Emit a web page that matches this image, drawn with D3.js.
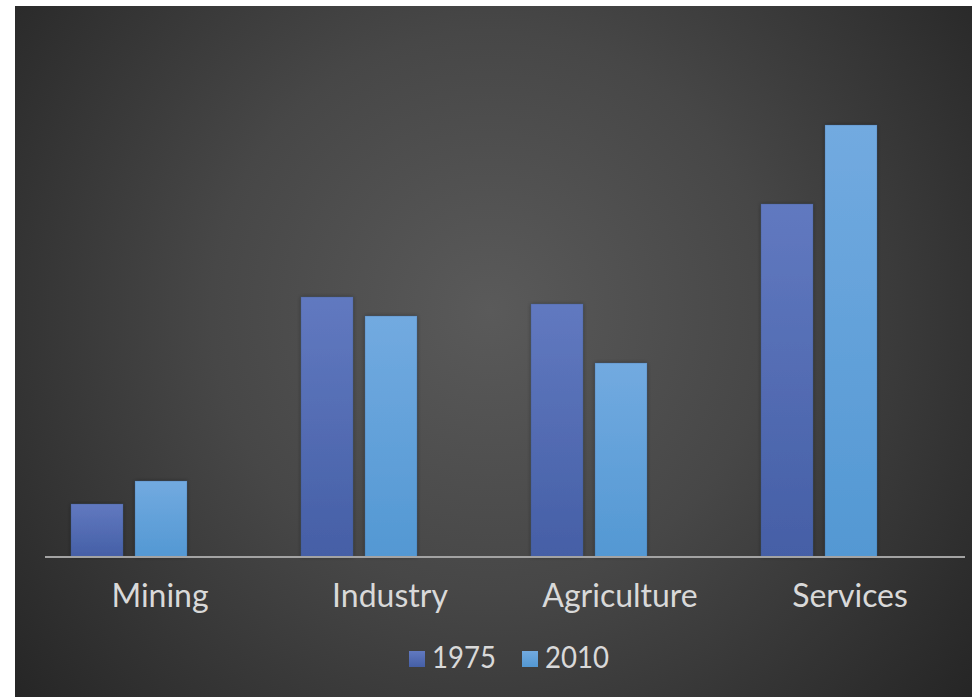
<!DOCTYPE html>
<html>
<head>
<meta charset="utf-8">
<script src="https://cdn.jsdelivr.net/npm/d3@7"></script>
<style>
  html, body { margin: 0; padding: 0; background: #ffffff; }
  svg { display: block; }
</style>
</head>
<body>
<svg id="chart" width="972" height="697"></svg>
<script>
// Employment by sector, two survey years
const categories = ["Mining", "Industry", "Agriculture", "Services"];
const seriesNames = ["1975", "2010"];
const values1975 = [5.3, 26.0, 25.3, 35.3];
const values2010 = [7.6, 24.1, 19.4, 43.2];
const seriesValues = [values1975, values2010];

const W = 972, H = 697;
const svg = d3.select("#chart");
const defs = svg.append("defs");

// Dark panel with a soft central glow
const bg = defs.append("radialGradient").attr("id", "bgGlow")
  .attr("gradientUnits", "userSpaceOnUse")
  .attr("cx", 490).attr("cy", 310).attr("r", 620);
bg.append("stop").attr("offset", "0%").attr("stop-color", "#5a5a5a");
bg.append("stop").attr("offset", "45%").attr("stop-color", "#474747");
bg.append("stop").attr("offset", "100%").attr("stop-color", "#252525");

const fills = [
  { id: "g1975", top: "#6179c0", bottom: "#455fa6" },
  { id: "g2010", top: "#72aae0", bottom: "#5398d3" }
];
fills.forEach(f => {
  const g = defs.append("linearGradient").attr("id", f.id)
    .attr("x1", 0).attr("y1", 0).attr("x2", 0).attr("y2", 1);
  g.append("stop").attr("offset", "0%").attr("stop-color", f.top);
  g.append("stop").attr("offset", "100%").attr("stop-color", f.bottom);
});

const shadow = defs.append("filter").attr("id", "barShadow")
  .attr("x", "-20%").attr("y", "-5%").attr("width", "140%").attr("height", "110%");
shadow.append("feDropShadow").attr("dx", 0).attr("dy", 0)
  .attr("stdDeviation", 2).attr("flood-color", "#000").attr("flood-opacity", 0.35);

svg.append("rect").attr("x", 15).attr("y", 6).attr("width", W - 15).attr("height", H - 6)
  .attr("fill", "url(#bgGlow)");

const plot = { left: 45, right: 965, top: 57, bottom: 557 };

const x = d3.scaleBand().domain(categories)
  .range([plot.left, plot.right]).paddingInner(0).paddingOuter(0);

// Each category holds three bar slots; the third one stays empty
const slots = [...seriesNames, "spare"];
const xSub = d3.scaleBand().domain(slots)
  .range([1, x.bandwidth() + 1]).paddingInner(0.1875).paddingOuter(0.390625);

const y = d3.scaleLinear().domain([0, 50]).range([plot.bottom, plot.top]);

const rows = categories.map((c, i) => ({
  category: c,
  bars: seriesNames.map((s, j) => ({ series: s, value: seriesValues[j][i], fill: fills[j].id }))
}));

const groups = svg.append("g").selectAll("g").data(rows).join("g")
  .attr("transform", d => `translate(${x(d.category)},0)`);

groups.selectAll("rect").data(d => d.bars).join("rect")
  .attr("x", d => xSub(d.series))
  .attr("width", xSub.bandwidth())
  .attr("y", d => y(d.value))
  .attr("height", d => y(0) - y(d.value))
  .attr("fill", d => `url(#${d.fill})`)
  .attr("stroke", "rgba(60,80,130,0.25)")
  .attr("stroke-width", 1)
  .attr("filter", "url(#barShadow)");

// Category axis
const axis = svg.append("g").attr("transform", `translate(0,${plot.bottom})`)
  .call(d3.axisBottom(x).tickSize(0).tickPadding(27));
axis.select(".domain").attr("stroke", "#a3a3a3").attr("stroke-width", 2.2)
  .attr("d", `M${plot.left},0H${plot.right}`);
axis.selectAll(".tick text")
  .attr("fill", "#d9d9d9")
  .style("font-family", "Lato, 'Open Sans', sans-serif")
  .style("font-size", "32px")
  .attr("dy", "0.71em");

// Legend
const legend = svg.append("g").attr("transform", "translate(409,651)");
const legendX = [0, 113];
seriesNames.forEach((s, j) => {
  const item = legend.append("g").attr("transform", `translate(${legendX[j]},0)`);
  item.append("rect").attr("width", 16).attr("height", 16)
    .attr("fill", `url(#${fills[j].id})`);
  item.append("text").attr("x", 23).attr("y", 17)
    .attr("fill", "#d9d9d9")
    .style("font-family", "Lato, 'Open Sans', sans-serif")
    .style("font-size", "30px")
    .attr("textLength", 64)
    .attr("lengthAdjust", "spacingAndGlyphs")
    .text(s);
});
</script>
</body>
</html>
